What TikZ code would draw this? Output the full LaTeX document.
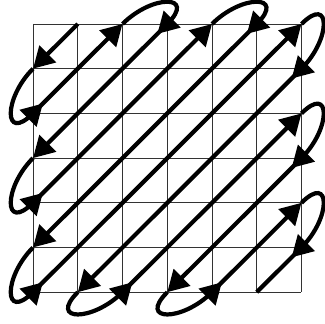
\documentclass[tikz,border=0pt]{standalone}
\usetikzlibrary{arrows.meta,calc}
\begin{document}
\begin{tikzpicture}[x=1pt,y=1pt,
  gridline/.style={line width=0.8pt,black!80},
  scanline/.style={line width=4.2pt,-{Triangle[length=21pt,width=23pt]}},
  endline/.style={line width=4.2pt},
]
\useasboundingbox (0,0) rectangle (325,324);
\def\L{42}
\foreach \i in {0,...,6}{\foreach \j in {0,...,6}{
  \coordinate (p\i\j) at ({33+\i*44.75},{300-\j*44.7});}}
\foreach \i in {0,...,6}{
  \draw[gridline] (p\i0) -- (p\i6);
  \draw[gridline] (p0\i) -- (p6\i);}
% diagonals
\foreach \a/\b in {10/01,30/03,50/05,61/16,63/36,02/20,04/40,06/60,26/62,46/64}
  \draw[scanline] (p\a) -- (p\b);
\draw[endline] (p65) -- (p56);
% loops on left and bottom
\foreach \a/\b in {01/02,03/04,05/06,16/26,36/46}
  \draw[scanline] (p\a) .. controls +(225:\L) and +(225:\L) .. (p\b) -- ++(45:14);
% loops on top and right
\foreach \a/\b in {20/30,40/50,60/61,62/63,64/65}
  \draw[scanline] (p\a) .. controls +(45:\L) and +(45:\L) .. (p\b) -- ++(225:14);
\end{tikzpicture}
\end{document}
